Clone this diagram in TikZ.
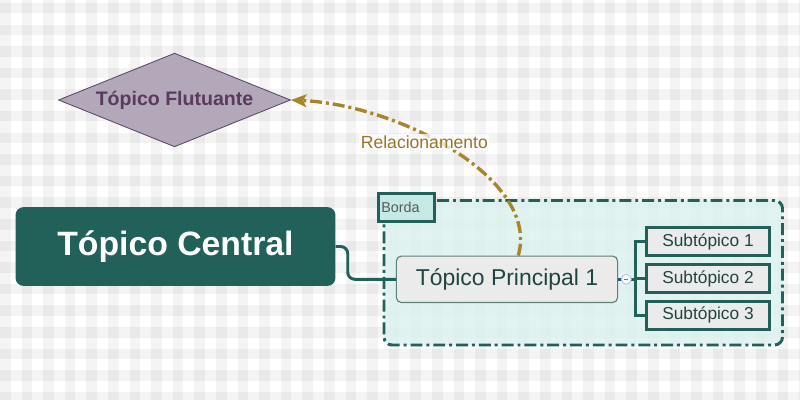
\documentclass[tikz,border=0pt]{standalone}
\usepackage{fontspec}
\setmainfont{Liberation Sans}
\usepackage{tikz}
\usetikzlibrary{arrows.meta,positioning,calc,shapes.geometric}
\usepackage{xcolor}
\definecolor{mapteal}{HTML}{22615A}
\definecolor{bordacyan}{HTML}{DAF2EE}
\definecolor{bordalbl}{HTML}{C5EAE5}
\definecolor{topicgray}{HTML}{EBEBEB}
\definecolor{topicedge}{HTML}{5E807B}
\definecolor{topictext}{HTML}{1F4540}
\definecolor{floatlilac}{HTML}{B3A8B9}
\definecolor{floatedge}{HTML}{5C4563}
\definecolor{floattext}{HTML}{5A3A5E}
\definecolor{relgold}{HTML}{A8842A}
\definecolor{foldblue}{HTML}{B4C0EC}
\tikzset{
  ct/.style={rectangle,rounded corners=5.7pt,fill=mapteal,text=white,
             minimum width=227.5pt,minimum height=56pt,inner sep=0pt,
             font=\fontsize{24}{28}\selectfont\bfseries},
  mt/.style={rectangle,rounded corners=3.5pt,draw=topicedge,line width=0.8pt,
             fill=topicgray,text=topictext,minimum width=157.3pt,
             minimum height=33pt,inner sep=0pt,font=\fontsize{16.3}{19}\selectfont},
  st/.style={rectangle,draw=mapteal,line width=2.1pt,fill=topicgray,
             text=topictext,minimum width=87.2pt,minimum height=19.8pt,
             inner sep=0pt,font=\fontsize{12.3}{14}\selectfont},
  ft/.style={diamond,aspect=2.48,draw=floatedge,line width=0.6pt,fill=floatlilac,
             text=floattext,minimum width=165pt,minimum height=66.6pt,
             inner sep=0pt,font=\fontsize{13.9}{16}\selectfont\bfseries},
  bl/.style={rectangle,draw=mapteal,line width=2.1pt,fill=bordalbl,
             text=black!65,text width=36pt,align=left,inner xsep=2pt,
             minimum height=19.8pt,inner ysep=0pt,
             font=\fontsize{10.2}{12}\selectfont},
  fold/.style={circle,draw=foldblue,fill=white,line width=0.6pt,
               minimum size=7pt,inner sep=0pt,
               path picture={\draw[foldblue!60!black,line width=0.5pt]
                 ([xshift=2pt]path picture bounding box.west) --
                 ([xshift=-2pt]path picture bounding box.east);}},
  br/.style={mapteal,line width=2.1pt},
  bd/.style={draw=mapteal,fill=bordacyan,fill opacity=0.8,line width=2.1pt,
             rounded corners=5.7pt,
             dash pattern=on 8.5pt off 2.8pt on 2.1pt off 2.8pt},
  rel/.style={relgold,line width=2.4pt,
              dash pattern=on 8.5pt off 2.8pt on 2.1pt off 2.8pt,
              -{Stealth[length=11pt,width=9pt,inset=2.5pt]}},
  lbl/.style={font=\fontsize{12.5}{15}\selectfont,text=relgold!90!black,
              fill=white,fill opacity=0.75,text opacity=1,inner sep=1pt},
}

\begin{document}
\begin{tikzpicture}[x=0.025cm,y=-0.025cm]
  \useasboundingbox (0,0) rectangle (800,400);
  \fill[white] (0,0) rectangle (800,400);
  \begin{scope}
    \clip (0,0) rectangle (800,400);
    \foreach \k in {0,...,37}{
      \fill[black,fill opacity=0.045] (\k*21.6,0) rectangle ++(10.5,400);
      \fill[black,fill opacity=0.045] (0,\k*21.6+3) rectangle ++(800,10.5);
    }
  \end{scope}

  \draw[bd] (384,200.5) rectangle (782.5,345);

  \node[ct] (central) at (175.5,246.5) {Tópico Central};
  \node[ft] (flut) at (174.5,100) {Tópico Flutuante};
  \node[mt] (principal) at (507,279.3) {Tópico Principal 1};
  \node[st] (s1) at (708,241.7) {Subtópico 1};
  \node[st,below=4.3pt of s1] (s2) {Subtópico 2};
  \node[st,below=4.3pt of s2] (s3) {Subtópico 3};
  \node[bl] (borda) at (406.7,207.5) {Borda};

  \draw[br,rounded corners=5pt] (central.east) -- ++(12,0) |- (principal.west);
  \draw[br] (principal.east) -- ++(17,0) coordinate (fork);
  \foreach \s in {s1,s2,s3}
    \draw[br] (fork) |- (\s.west);
  \node[fold,right=2pt of principal] (fb) {};

  \draw[rel] ([xshift=8pt]principal.north) .. controls +(22,-76) and +(109,5) .. (flut.east)
    node[lbl,pos=0.6,yshift=-5pt] {Relacionamento};
\end{tikzpicture}
\end{document}
